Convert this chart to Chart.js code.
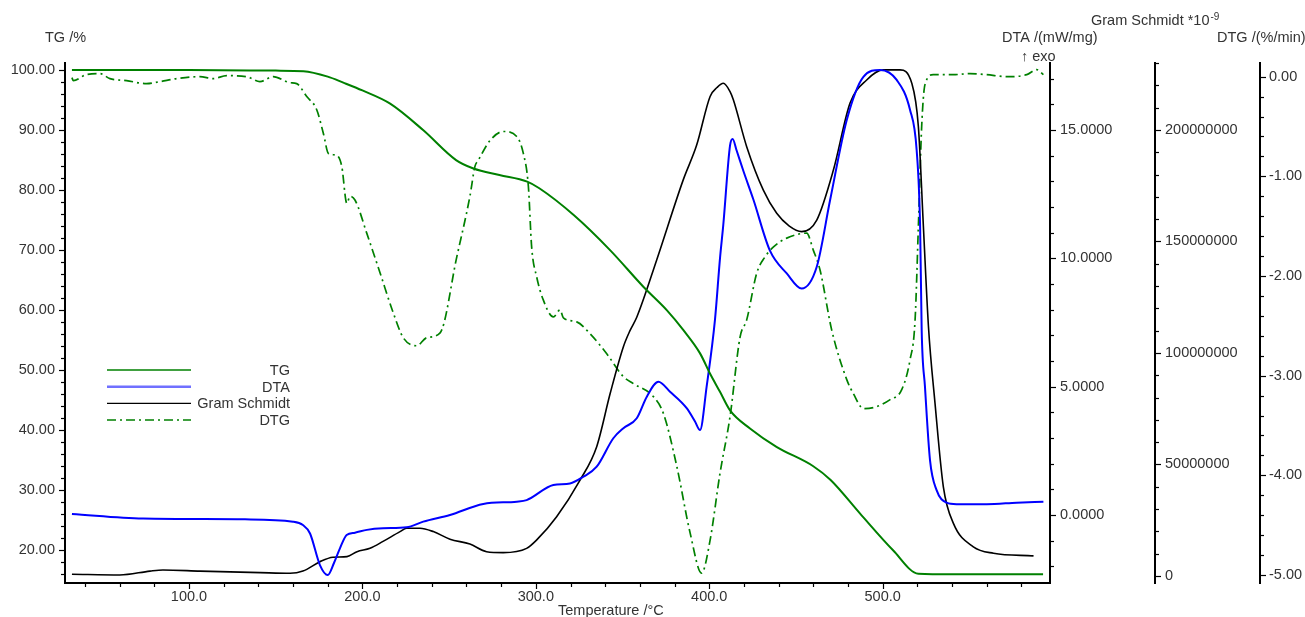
<!DOCTYPE html>
<html><head><meta charset="utf-8">
<script src="https://cdn.jsdelivr.net/npm/chart.js@4/dist/chart.umd.min.js"></script>
<style>html,body{margin:0;padding:0;background:#fff;}#wrap{position:relative;width:1305px;height:617px;}</style>
</head><body><div id="wrap"><canvas id="c" width="1305" height="617"></canvas></div>
<script>
// ---- data (temperature in °C) ----
const tgT = [32.5, 100, 150, 166, 180, 189, 200, 216, 235, 254,
             264, 279, 295, 302, 322, 342.8, 362, 375.5, 385, 394.7,
             400.5, 406.2, 412, 423.5, 439, 460, 470, 487, 506, 520.6,
             540, 592.5];
const tgV = [100.0, 100.0, 99.9, 99.8, 98.9, 97.9, 96.6, 94.4, 90.0, 85.0,
             83.6, 82.5, 81.4, 80.3, 75.8, 70.0, 63.9, 60.0, 56.7, 52.8,
             49.4, 46.4, 43.3, 40.3, 37.2, 34.0, 31.7, 26.1, 20.0, 16.1,
             16.0, 16.0];

const dtaT = [32.5, 73.5, 132.3, 160, 165.7, 169.8, 175.5, 180, 183.6, 187.1,
              190.9, 195.7, 202.6, 211.9, 225.5, 235.1, 250.5, 269.7, 289, 294.7,
              310.1, 319.7, 327.4, 335.1, 344.7, 350.5, 358.2, 364, 370.7, 377.4,
              387, 391.8, 394.7, 398.5, 403.3, 406.2, 408.1, 412, 413.5, 415.8,
              419.7, 425.4, 435, 444.7, 453.3, 462, 469.7, 479.3, 488.9, 498.5,
              508.1, 515.8, 519.6, 521.6, 522.5, 524.4, 527.3, 531.1, 536.9, 542.6,
              560, 577.3, 592.7];
const dtaV = [0.04, -0.14, -0.17, -0.26, -0.39, -0.72, -1.95, -2.34, -1.87, -1.29,
              -0.78, -0.69, -0.58, -0.52, -0.48, -0.26, 0.0, 0.43, 0.52, 0.58,
              1.17, 1.23, 1.49, 1.88, 2.99, 3.38, 3.77, 4.61, 5.19, 4.80,
              4.16, 3.64, 3.31, 5.0, 7.6, 10.0, 11.3, 14.4, 14.65, 14.2,
              13.4, 12.3, 10.3, 9.41, 8.82, 9.67, 12.27, 15.39, 17.07, 17.34,
              16.95, 15.78, 14.22, 11.23, 7.21, 5.0, 2.14, 0.97, 0.48, 0.42,
              0.42, 0.48, 0.52];

const gsT = [32.5, 60.1, 77.5, 85, 106.4, 141, 158.3, 165.7, 175.5, 183,
             191.1, 196.9, 204.4, 211.9, 221.7, 225.5, 233.2, 240.9, 250.5, 262,
             271.6, 281.2, 294.7, 300.4, 312, 325.5, 335.1, 342.9, 350.5, 354.3,
             358.2, 369.7, 385, 392.8, 400.5, 404.5, 408.1, 412, 413.9, 421.6,
             431.2, 438.9, 446, 453.3, 462, 471.6, 481.2, 490.8, 500.4, 510,
             516.8, 520.6, 523.5, 526.4, 530.2, 535, 540.8, 552.3, 563.9, 587];
const gsV = [800000, 450000, 2200000, 2700000, 2200000, 1500000, 1200000, 2200000, 6400000, 8400000,
             8700000, 10900000, 12400000, 15500000, 19900000, 21400000, 21400000, 19900000, 16500000, 14300000,
             10900000, 10500000, 12400000, 16100000, 26600000, 43000000, 58000000, 81900000, 102800000, 110000000,
             116000000, 141700000, 177600000, 193300000, 215000000, 219000000, 220900000, 217200000, 213500000, 192500000,
             173000000, 162600000, 157000000, 154400000, 159600000, 182000000, 212000000, 222400000, 226900000, 226900000,
             220900000, 201500000, 156600000, 112000000, 77400000, 40000000, 23600000, 13100000, 10200000, 9000000];

const dtgT = [32.5, 33.3, 40.8, 48.7, 54.4, 64, 75.5, 83.2, 92.8, 106.3,
              114, 121.7, 133.2, 140.9, 148.6, 158.2, 162.1, 167.9, 173.6, 177.5,
              180.4, 185.2, 188.1, 191, 192.9, 195.8, 202.5, 210.2, 217.8, 223.6,
              231.3, 237, 244.8, 254.4, 262, 264.9, 266.8, 273.6, 281.3, 289,
              292.8, 295.7, 297.6, 300.5, 304.3, 310.1, 314, 315.9, 323.6, 331.3,
              340.9, 350.5, 356.3, 367.8, 373.6, 381.3, 389, 395.6, 400.5, 406.2,
              412, 417.8, 421.6, 427.4, 432.1, 436.9, 444.7, 456.2, 460, 463.9,
              470.6, 479.3, 483.1, 488.9, 496.6, 504.3, 511, 515.8, 518.7, 520.6,
              522.5, 524.4, 529.2, 540.8, 550.4, 560, 571.5, 583.1, 588.8, 592.7];
const dtgV = [-0.01, -0.04, 0.02, 0.03, -0.02, -0.04, -0.07, -0.05, -0.02, 0.0,
              -0.02, 0.01, 0.0, -0.05, 0.0, -0.06, -0.07, -0.2, -0.33, -0.57,
              -0.77, -0.79, -0.9, -1.27, -1.2, -1.24, -1.57, -1.97, -2.37, -2.62,
              -2.70, -2.62, -2.57, -1.81, -1.2, -0.9, -0.84, -0.64, -0.55, -0.60,
              -0.77, -1.10, -1.71, -2.01, -2.24, -2.41, -2.34, -2.42, -2.46, -2.58,
              -2.78, -3.01, -3.08, -3.21, -3.38, -3.91, -4.58, -4.98, -4.65, -3.98,
              -3.41, -2.61, -2.44, -1.97, -1.81, -1.71, -1.62, -1.57, -1.74, -1.94,
              -2.54, -3.04, -3.18, -3.33, -3.31, -3.24, -3.14, -2.84, -2.44, -1.5,
              -0.5, -0.08, 0.02, 0.02, 0.03, 0.02, 0.0, 0.02, 0.07, 0.02];

// ---- tick labels ----
const xTicks = [100, 200, 300, 400, 500];
const tgTicks = [20, 30, 40, 50, 60, 70, 80, 90, 100];
const dtaTicks = [0, 5, 10, 15];
const gsTicks = [0, 50000000, 100000000, 150000000, 200000000];
const dtgTicks = [-5, -4, -3, -2, -1, 0];

const seriesNames = ['TG', 'DTA', 'Gram Schmidt', 'DTG'];

// ---- styling ----
const FONT = '"Liberation Sans", Arial, sans-serif';
const FS = 14.5;
const TXT = '#333333';
const GREEN = '#008000', BLUE = '#0000ff', BLACK = '#000000';

function pts(t, v) { return t.map((x, i) => ({x: x, y: v[i]})); }
function fixTicks(vals) { return s => { s.ticks = vals.map(v => ({value: v})); }; }
function fixW(w) { return s => { s.width = w; }; }

const tickFont = {family: FONT, size: FS};
function yAxis(pos, min, max, vals, fmt, width, pad) {
  return {
    type: 'linear', position: pos, min: min, max: max,
    afterBuildTicks: fixTicks(vals), afterFit: fixW(width),
    grid: {display: false, drawTicks: false},
    border: {display: true, color: '#000', width: 2},
    ticks: {autoSkip: false, padding: pad, color: TXT, font: tickFont, callback: fmt}
  };
}

const minorSpec = {
  x: [20, 100], yTG: [2, 10], yDTA: [1, 5], yGS: [10000000, 50000000], yDTG: [0.2, 1]
};

const decor = {
  id: 'decor',
  afterDraw(chart) {
    const ctx = chart.ctx;
    ctx.save();
    // minor / major tick marks
    ctx.strokeStyle = '#000'; ctx.lineWidth = 1.2;
    for (const id in minorSpec) {
      const s = chart.scales[id]; const [st, mj] = minorSpec[id];
      const i0 = Math.ceil(s.min / st - 1e-9), i1 = Math.floor(s.max / st + 1e-9);
      for (let i = i0; i <= i1; i++) {
        const v = i * st; const r = v / mj;
        const major = Math.abs(r - Math.round(r)) < 1e-6;
        const len = major ? 6 : 4;
        const p = Math.round(s.getPixelForValue(v)) + 0.5;
        ctx.beginPath();
        if (id === 'x') { ctx.moveTo(p, s.top); ctx.lineTo(p, s.top + len); }
        else if (s.position === 'left') { ctx.moveTo(s.right, p); ctx.lineTo(s.right - len, p); }
        else { ctx.moveTo(s.left, p); ctx.lineTo(s.left + len, p); }
        ctx.stroke();
      }
    }
    // axis titles
    ctx.fillStyle = TXT; ctx.textBaseline = 'middle'; ctx.textAlign = 'left';
    ctx.font = FS + 'px ' + FONT;
    ctx.fillText('TG /%', 45, 38);
    ctx.fillText('DTA /(mW/mg)', 1002, 38);
    ctx.fillText('\u2191 exo', 1021, 57);
    ctx.fillText('DTG /(%/min)', 1217, 38);
    ctx.fillText('Temperature /\u00B0C', 558, 611);
    const gsTxt = 'Gram Schmidt *10';
    ctx.fillText(gsTxt, 1091, 21);
    const w = ctx.measureText(gsTxt).width;
    ctx.font = '10px ' + FONT;
    ctx.fillText('-9', 1091 + w + 1, 17);
    // legend
    const rows = [370, 386.7, 403.3, 420];
    const ds = chart.data.datasets;
    ctx.font = FS + 'px ' + FONT; ctx.textAlign = 'right';
    rows.forEach((y, i) => {
      const d = ds[i];
      ctx.save();
      ctx.strokeStyle = i === 1 ? '#7070ff' : d.borderColor;
      ctx.lineWidth = i === 1 ? 2.5 : 1.3;
      ctx.setLineDash(d.borderDash || []);
      ctx.beginPath(); ctx.moveTo(107, y); ctx.lineTo(191, y); ctx.stroke();
      ctx.restore();
      ctx.fillStyle = TXT; ctx.fillText(seriesNames[i], 290, y + 1);
    });
    ctx.restore();
  }
};

new Chart(document.getElementById('c'), {
  type: 'line',
  data: {
    datasets: [
      {label: seriesNames[0], data: pts(tgT, tgV), yAxisID: 'yTG', borderColor: GREEN, borderWidth: 2},
      {label: seriesNames[1], data: pts(dtaT, dtaV), yAxisID: 'yDTA', borderColor: BLUE, borderWidth: 2},
      {label: seriesNames[2], data: pts(gsT, gsV), yAxisID: 'yGS', borderColor: BLACK, borderWidth: 1.6},
      {label: seriesNames[3], data: pts(dtgT, dtgV), yAxisID: 'yDTG', borderColor: GREEN, borderWidth: 1.7, borderDash: [9, 4, 2, 4]}
    ]
  },
  options: {
    responsive: false, animation: false, devicePixelRatio: 1,
    parsing: true,
    elements: {point: {radius: 0}, line: {cubicInterpolationMode: 'monotone', fill: false}},
    layout: {padding: {top: 63, left: 0, right: 0, bottom: 0}},
    plugins: {legend: {display: false}, tooltip: {enabled: false}},
    scales: {
      x: {
        type: 'linear', position: 'bottom', min: 28.5, max: 596.5,
        afterBuildTicks: fixTicks(xTicks), afterFit: s => { s.height = 34; },
        grid: {display: false, drawTicks: false},
        border: {display: true, color: '#000', width: 2},
        ticks: {autoSkip: false, maxRotation: 0, padding: 5, color: TXT, font: tickFont, callback: v => v.toFixed(1)}
      },
      yTG: yAxis('left', 14.55, 101.17, tgTicks, v => v.toFixed(2), 65, 10),
      yDTA: yAxis('right', -2.65, 17.61, dtaTicks, v => v.toFixed(4), 105, 10),
      yGS: yAxis('right', -3140000, 230000000, gsTicks, v => String(Math.round(v)), 105, 10),
      yDTG: yAxis('right', -5.08, 0.137, dtgTicks, v => v.toFixed(2), 45, 9)
    }
  },
  plugins: [decor]
});
</script></body></html>
